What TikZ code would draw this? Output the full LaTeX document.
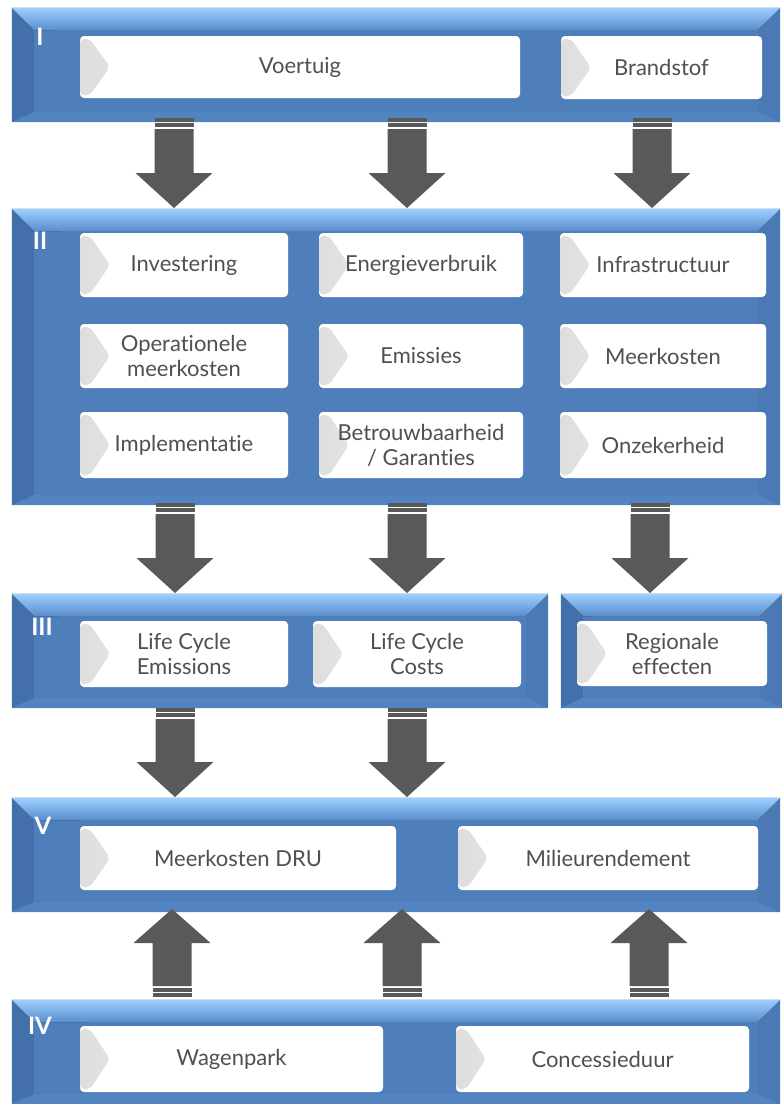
\documentclass[tikz,border=0pt]{standalone}
\usepackage{fontspec}
\setmainfont{Lato}[Ligatures={NoCommon}]
\usetikzlibrary{calc}
\definecolor{bandblue}{HTML}{4F7FBB}
\definecolor{bandlight}{HTML}{9DD0FF}
\definecolor{bandmid}{HTML}{5A8DCB}
\definecolor{banddark}{HTML}{4370AB}
\definecolor{bandright}{HTML}{4A79B4}
\definecolor{bandbottom}{HTML}{5284C1}
\definecolor{arrowgray}{HTML}{595959}
\definecolor{txtgray}{HTML}{505050}
\tikzset{
  bandbox/.style={fill=bandblue, draw=none, inner sep=0pt},
  whitebox/.style={fill=white, draw=none, rounded corners=4pt, inner sep=2pt,
    align=center, text=txtgray, font=\fontsize{22}{25}\selectfont,
    path picture={\fill[left color=black!13, right color=white]
      ([yshift=-3pt]path picture bounding box.north west) --
      ([xshift=10pt,yshift=-3pt]path picture bounding box.north west) --
      ([xshift=30pt]path picture bounding box.west) --
      ([xshift=10pt,yshift=3pt]path picture bounding box.south west) --
      ([yshift=3pt]path picture bounding box.south west) -- cycle;}},
  numlabel/.style={text=white, font=\fontsize{24}{24}\selectfont\bfseries, inner sep=0pt},
  arrowfill/.style={fill=arrowgray}
}
\newcommand\bandpanel[5]{%
  \node[bandbox, minimum width={(#4-#2)*1pt}, minimum height={(#5-#3)*1pt}] (#1) at ({(#2+#4)/2},{(#3+#5)/2}) {};
  \fill[banddark] (#1.north west) -- ++(22,22) -- ({#2+22},{#5-10}) -- (#1.south west) -- cycle;
  \fill[bandright] (#1.north east) -- ++(-22,22) -- ({#4-22},{#5-10}) -- (#1.south east) -- cycle;
  \fill[bandbottom] (#1.south west) -- ({#2+22},{#5-10}) -- ({#4-22},{#5-10}) -- (#1.south east) -- cycle;
  \fill[top color=bandlight, bottom color=bandmid] (#1.north west) -- (#1.north east) -- ++(-22,22) -- ({#2+22},{#3+22}) -- cycle;
}
\newcommand\wbox[6]{%
  \node[whitebox, minimum width={(#4-#2)*1pt}, minimum height={(#5-#3)*1pt}] (#1) at ({(#2+#4)/2},{(#3+#5)/2+1}) {#6};
}
\newcommand\blkdown[4]{%
  \fill[arrowfill] ({#1-19.5},#2) rectangle ({#1+19.5},{#2+4});
  \fill[arrowfill] ({#1-19.5},{#2+5}) rectangle ({#1+19.5},{#2+9});
  \fill[arrowfill] ({#1-19.5},{#2+11}) -- ({#1+19.5},{#2+11}) -- ({#1+19.5},#3) -- ({#1+38.5},#3) -- (#1,#4) -- ({#1-38.5},#3) -- ({#1-19.5},#3) -- cycle;
}
\newcommand\blkup[4]{%
  \fill[arrowfill] ({#1-19.5},#2) rectangle ({#1+19.5},{#2-4});
  \fill[arrowfill] ({#1-19.5},{#2-5}) rectangle ({#1+19.5},{#2-9});
  \fill[arrowfill] ({#1-19.5},{#2-11}) -- ({#1+19.5},{#2-11}) -- ({#1+19.5},#3) -- ({#1+38.5},#3) -- (#1,#4) -- ({#1-38.5},#3) -- ({#1-19.5},#3) -- cycle;
}
\begin{document}
\begin{tikzpicture}[x=1pt,y=-1pt]
\useasboundingbox (0,0) rectangle (782,1104);
\fill[white] (0,0) rectangle (782,1104);

% bands
\bandpanel{bandI}{12}{8}{780}{122}
\bandpanel{bandII}{12}{209}{780}{505}
\bandpanel{bandIIIa}{12}{594}{548}{708}
\bandpanel{bandIIIb}{561}{594}{782}{708}
\bandpanel{bandV}{12}{798}{780}{912}
\bandpanel{bandIV}{12}{1000}{780}{1104}

% labels
\node[numlabel] (lI) at (40,37) {I};
\node[numlabel] (lII) at (40,241) {II};
\node[numlabel] (lIII) at (42,627) {III};
\node[numlabel] (lV) at (43,826) {V};
\node[numlabel] (lIV) at (40,1026) {IV};

% boxes
\wbox{voertuig}{80}{35}{520}{97}{Voertuig}
\wbox{brandstof}{561}{35}{762}{98}{Brandstof}

\wbox{invest}{80}{232}{288}{296}{Investering}
\wbox{energie}{319}{232}{523}{296}{Energieverbruik}
\wbox{infra}{560}{232}{766}{296}{Infrastructuur}
\wbox{opmeer}{80}{323}{288}{387}{Operationele\\meerkosten}
\wbox{emis}{319}{323}{523}{387}{Emissies}
\wbox{meer}{560}{323}{766}{387}{Meerkosten}
\wbox{impl}{80}{411}{288}{477}{Implementatie}
\wbox{betr}{319}{411}{523}{477}{Betrouwbaarheid\\/ Garanties}
\wbox{onzek}{560}{411}{766}{477}{Onzekerheid}

\wbox{lce}{80}{620}{288}{686}{Life Cycle\\Emissions}
\wbox{lcc}{313}{620}{521}{686}{Life Cycle\\Costs}
\wbox{regio}{577}{620}{767}{685}{Regionale\\effecten}

\wbox{dru}{80}{825}{396}{889}{Meerkosten DRU}
\wbox{milieu}{458}{825}{758}{889}{Milieurendement}

\wbox{wagen}{80}{1025}{383}{1091}{Wagenpark}
\wbox{conc}{456}{1025}{749}{1091}{Concessieduur}

% arrows I -> II
\blkdown{174}{118}{173}{208}
\blkdown{407}{118}{173}{208}
\blkdown{652}{118}{173}{208}
% arrows II -> III
\blkdown{175}{503}{558}{593}
\blkdown{407}{503}{558}{593}
\blkdown{650}{503}{558}{593}
% arrows III -> V
\blkdown{175}{708}{762}{797}
\blkdown{407}{708}{762}{797}
% arrows IV -> V
\blkup{172}{997}{943}{909}
\blkup{402}{997}{943}{909}
\blkup{649}{997}{943}{909}
\end{tikzpicture}
\end{document}
